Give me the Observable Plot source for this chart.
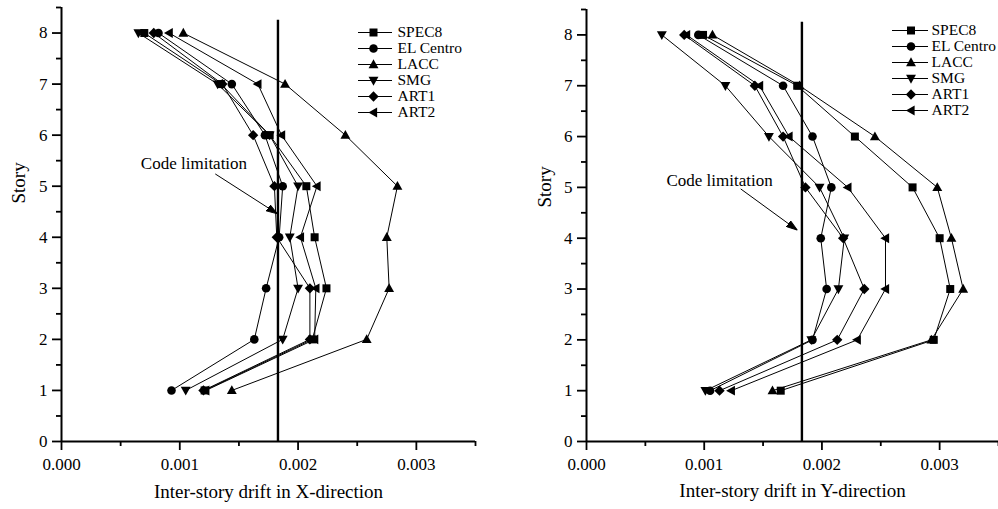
<!DOCTYPE html>
<html>
<head>
<meta charset="utf-8">
<script src="https://cdn.jsdelivr.net/npm/d3@7"></script>
<script src="https://cdn.jsdelivr.net/npm/@observablehq/plot@0.6"></script>
<style>
  html, body { margin: 0; padding: 0; background: white; overflow: hidden; }
  #wrap { display: flex; width: 998px; height: 509px; overflow: hidden; }
  .panel { position: relative; width: 499px; height: 509px; overflow: hidden; }
  .legend { position: absolute; top: 0; }
</style>
</head>
<body>
<div id="wrap">
  <div class="panel" id="left"></div>
  <div class="panel" id="right"></div>
</div>
<script>
// ---------------- data ----------------
const stories = [1, 2, 3, 4, 5, 6, 7, 8];
const seriesNames = ["SPEC8", "EL Centro", "LACC", "SMG", "ART1", "ART2"];

// X-direction drift, story 1 -> 8
const xSPEC8 = [0.00121, 0.00212, 0.00224, 0.00214, 0.00207, 0.00176, 0.00135, 0.00070];
const xELCentro = [0.00093, 0.00163, 0.00173, 0.00184, 0.00187, 0.00172, 0.00144, 0.00082];
const xLACC = [0.00144, 0.00258, 0.00277, 0.00275, 0.00284, 0.00240, 0.00189, 0.00103];
const xSMG = [0.00105, 0.00187, 0.00200, 0.00193, 0.00200, 0.00176, 0.00132, 0.00065];
const xART1 = [0.00120, 0.00210, 0.00210, 0.00182, 0.00180, 0.00162, 0.00136, 0.00078];
const xART2 = [0.00122, 0.00214, 0.00215, 0.00202, 0.00216, 0.00186, 0.00166, 0.00091];

// Y-direction drift, story 1 -> 8
const ySPEC8 = [0.00165, 0.00295, 0.00309, 0.00300, 0.00277, 0.00228, 0.00179, 0.00099];
const yELCentro = [0.00105, 0.00192, 0.00204, 0.00199, 0.00208, 0.00192, 0.00167, 0.00095];
const yLACC = [0.00158, 0.00293, 0.00320, 0.00310, 0.00298, 0.00245, 0.00181, 0.00107];
const ySMG = [0.00101, 0.00191, 0.00214, 0.00219, 0.00198, 0.00155, 0.00118, 0.00064];
const yART1 = [0.00113, 0.00213, 0.00236, 0.00218, 0.00186, 0.00167, 0.00143, 0.00083];
const yART2 = [0.00123, 0.00230, 0.00254, 0.00254, 0.00222, 0.00172, 0.00147, 0.00085];

// axes ticks
const xTicks = [0, 0.001, 0.002, 0.003];
const xMinorTicks = [0.0005, 0.0015, 0.0025, 0.0035];
const yTicks = [0, 1, 2, 3, 4, 5, 6, 7, 8];
const yMinorTicks = [0.5, 1.5, 2.5, 3.5, 4.5, 5.5, 6.5, 7.5, 8.5];

// code limitation
const codeLimit = 0.00183;
const codeLimitTop = 8.25;
const annotationText = "Code limitation";
const annotX = {text: [0.00112, 5.45], from: [0.00130, 5.24], to: [0.001825, 4.46]};
const annotY = {text: [0.00113, 5.13], from: [0.00131, 4.97], to: [0.00179, 4.16]};

// ---------------- symbols ----------------
const mk = (f) => ({draw(ctx, size) { const r = Math.sqrt(size / Math.PI); f(ctx, r); }});
const symbols = {
  "SPEC8": mk((c, r) => { const h = r * 0.93; c.moveTo(-h, -h); c.lineTo(h, -h); c.lineTo(h, h); c.lineTo(-h, h); c.closePath(); }),
  "EL Centro": mk((c, r) => { c.moveTo(r, 0); c.arc(0, 0, r, 0, 2 * Math.PI); }),
  "LACC": mk((c, r) => { c.moveTo(0, -1.2 * r); c.lineTo(1.15 * r, 0.85 * r); c.lineTo(-1.15 * r, 0.85 * r); c.closePath(); }),
  "SMG": mk((c, r) => { c.moveTo(0, 1.2 * r); c.lineTo(1.15 * r, -0.85 * r); c.lineTo(-1.15 * r, -0.85 * r); c.closePath(); }),
  "ART1": mk((c, r) => { const h = 1.2 * r; c.moveTo(0, -h); c.lineTo(h, 0); c.lineTo(0, h); c.lineTo(-h, 0); c.closePath(); }),
  "ART2": mk((c, r) => { c.moveTo(-1.2 * r, 0); c.lineTo(0.85 * r, -1.15 * r); c.lineTo(0.85 * r, 1.15 * r); c.closePath(); })
};

function arrowHead(color, context) {
  return d3.create("svg:marker")
    .attr("viewBox", "-11 -4 11 8")
    .attr("markerUnits", "userSpaceOnUse")
    .attr("markerWidth", 11)
    .attr("markerHeight", 8)
    .attr("refX", 0).attr("refY", 0)
    .attr("orient", "auto")
    .call(m => m.append("path").attr("d", "M0,0L-11,-3.6L-11,3.6Z").attr("fill", color))
    .node();
}

function buildRows(arrays) {
  const rows = [];
  seriesNames.forEach((name, i) => {
    arrays[i].forEach((v, j) => rows.push({series: name, story: stories[j], drift: v}));
  });
  return rows;
}

const FONT = "Liberation Serif, Times New Roman, serif";

function panel({rows, margins, label, annot, labelDx, labelDy, xLabelDy}) {
  const marks = [];
  for (const name of seriesNames) {
    const d = rows.filter(r => r.series === name);
    marks.push(Plot.line(d, {x: "drift", y: "story", stroke: "black", strokeWidth: 1}));
  }
  marks.push(Plot.ruleX([codeLimit], {y1: 0, y2: codeLimitTop, stroke: "black", strokeWidth: 2.4}));
  for (const name of seriesNames) {
    const d = rows.filter(r => r.series === name);
    marks.push(Plot.dot(d, {x: "drift", y: "story", symbol: symbols[name], r: 4.3, fill: "black", stroke: "none"}));
  }
  marks.push(Plot.link([annot], {x1: d => d.from[0], y1: d => d.from[1], x2: d => d.to[0], y2: d => d.to[1], stroke: "black", strokeWidth: 1, markerEnd: arrowHead}));
  marks.push(Plot.text([annot], {x: d => d.text[0], y: d => d.text[1], text: () => annotationText, fontSize: 17, fill: "black"}));
  marks.push(Plot.axisX({ticks: xTicks, tickSize: 9, tickPadding: 7, strokeWidth: 1.8, tickFormat: d3.format(".3f"), label: null, fontSize: 17}));
  marks.push(Plot.axisX({ticks: xMinorTicks, tickSize: 5, strokeWidth: 1.8, text: null, label: null}));
  marks.push(Plot.axisY({ticks: yTicks, tickSize: 9, tickPadding: 5, strokeWidth: 1.8, tickFormat: d3.format("d"), label: null, fontSize: 17}));
  marks.push(Plot.axisY({ticks: yMinorTicks, tickSize: 5, strokeWidth: 1.8, text: null, label: null}));
  marks.push(Plot.ruleX([0], {stroke: "black", strokeWidth: 2}));
  marks.push(Plot.ruleY([0], {stroke: "black", strokeWidth: 2}));
  marks.push(Plot.text(["Story"], {frameAnchor: "left", text: d => d, rotate: -90, dx: labelDx, dy: labelDy, fontSize: 19, fill: "black"}));
  marks.push(Plot.text([label], {frameAnchor: "bottom", text: d => d, dy: xLabelDy, fontSize: 19, fill: "black"}));

  return Plot.plot({
    width: 499,
    height: 509,
    ...margins,
    style: {fontFamily: FONT, fontSize: "17px", color: "black", background: "white"},
    x: {domain: [0, 0.0035]},
    y: {domain: [0, 8.5]},
    marks
  });
}

function legend({lineLen, markerX, textX, row1, spacing, width}) {
  const marks = [];
  marks.push(Plot.ruleY(seriesNames, {y: d => d, x1: 0, x2: lineLen, stroke: "black", strokeWidth: 1}));
  for (const name of seriesNames) {
    marks.push(Plot.dot([name], {y: d => d, x: markerX, symbol: symbols[name], r: 4.3, fill: "black", stroke: "none"}));
  }
  marks.push(Plot.text(seriesNames, {y: d => d, x: textX, text: d => d, textAnchor: "start", fontSize: 15.5, fill: "black"}));
  return Plot.plot({
    width, height: 140,
    marginTop: 0, marginBottom: 0, marginLeft: 0, marginRight: 0,
    style: {fontFamily: FONT, background: "transparent", color: "black"},
    x: {domain: [0, width], range: [0, width], axis: null},
    y: {type: "point", domain: seriesNames, range: [row1, row1 + 5 * spacing], axis: null},
    marks
  });
}

const rowsX = buildRows([xSPEC8, xELCentro, xLACC, xSMG, xART1, xART2]);
const rowsY = buildRows([ySPEC8, yELCentro, yLACC, ySMG, yART1, yART2]);

const left = document.getElementById("left");
left.appendChild(panel({
  rows: rowsX,
  margins: {marginLeft: 61, marginRight: 24, marginTop: 7, marginBottom: 68},
  label: "Inter-story drift in X-direction",
  annot: annotX,
  labelDx: -43, labelDy: -21, xLabelDy: 56
}));
const lgL = document.createElement("div");
lgL.className = "legend"; lgL.style.left = "358px";
lgL.appendChild(legend({lineLen: 34, markerX: 15, textX: 39, row1: 23.3, spacing: 19.5, width: 141}));
left.appendChild(lgL);

const right = document.getElementById("right");
right.appendChild(panel({
  rows: rowsY,
  margins: {marginLeft: 87, marginRight: 0, marginTop: 9, marginBottom: 68},
  label: "Inter-story drift in Y-direction",
  annot: annotY,
  labelDx: -42, labelDy: -18, xLabelDy: 55
}));
const lgR = document.createElement("div");
lgR.className = "legend"; lgR.style.left = "393px";
lgR.appendChild(legend({lineLen: 36, markerX: 18.5, textX: 39, row1: 21, spacing: 19.4, width: 106}));
right.appendChild(lgR);
</script>
</body>
</html>
